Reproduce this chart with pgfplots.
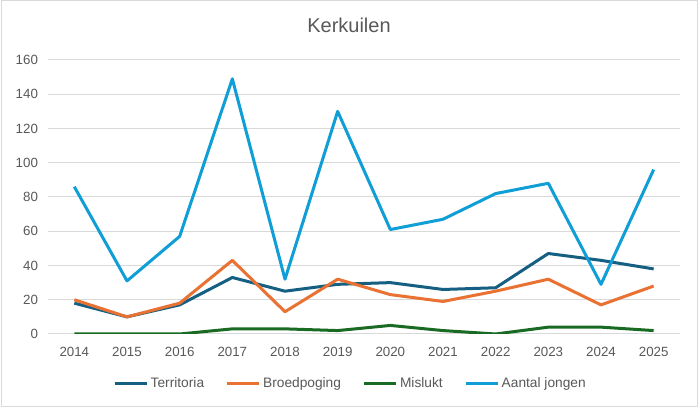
\documentclass[border=0pt]{standalone}
\usepackage{pgfplots}
\pgfplotsset{compat=1.18}
\usepackage{fontspec}
\setmainfont{Liberation Sans}
\definecolor{terr}{HTML}{156082}
\definecolor{broed}{HTML}{E97132}
\definecolor{mis}{HTML}{196B24}
\definecolor{jong}{HTML}{0F9ED5}
\definecolor{txt}{HTML}{595959}
\definecolor{gridc}{HTML}{D9D9D9}
\begin{document}
\begin{tikzpicture}[x=0.75pt,y=0.75pt]
\fill[white] (0,0) rectangle (700,410);
\draw[gridc, line width=0.75pt] (1,3) rectangle (697,409);
\node[text=txt, font=\fontsize{15}{18}\selectfont] at (349,385) {Kerkuilen};
\begin{axis}[
  at={(36pt,57pt)}, anchor=south west,
  scale only axis, width=474pt, height=205.5pt,
  xmin=-0.5, xmax=11.5, ymin=0, ymax=160,
  xtick={0,...,11},
  xticklabels={2014,2015,2016,2017,2018,2019,2020,2021,2022,2023,2024,2025},
  ytick={0,20,...,160},
  axis line style={draw=none},
  major tick length=0pt,
  xmajorgrids=false, ymajorgrids=true,
  major grid style={draw=gridc, line width=0.75pt},
  tick label style={text=txt, font=\fontsize{10}{12}\selectfont},
  /pgf/number format/assume math mode=true,
  xticklabel style={yshift=-6pt},
  yticklabel style={xshift=-4pt},
  legend columns=4,
  legend style={at={(0.479,-0.179)}, anchor=center, draw=none, fill=none,
    font=\fontsize{10.3}{12}\selectfont, text=txt,
    /tikz/every even column/.append style={column sep=14pt}},
  legend image code/.code={\draw[#1, line width=2.25pt] (0pt,0pt) -- (24pt,0pt);},
  every axis plot/.append style={line width=2.25pt, line join=round, no markers},
]
\addplot[terr] coordinates {(0,18)(1,10)(2,17)(3,33)(4,25)(5,29)(6,30)(7,26)(8,27)(9,47)(10,43)(11,38)};
\addlegendentry{Territoria}
\addplot[broed] coordinates {(0,20)(1,10)(2,18)(3,43)(4,13)(5,32)(6,23)(7,19)(8,25)(9,32)(10,17)(11,28)};
\addlegendentry{Broedpoging}
\addplot[mis] coordinates {(0,0)(1,0)(2,0)(3,3)(4,3)(5,2)(6,5)(7,2)(8,0)(9,4)(10,4)(11,2)};
\addlegendentry{Mislukt}
\addplot[jong] coordinates {(0,86)(1,31)(2,57)(3,149)(4,32)(5,130)(6,61)(7,67)(8,82)(9,88)(10,29)(11,96)};
\addlegendentry{Aantal jongen}
\end{axis}
\end{tikzpicture}
\end{document}
